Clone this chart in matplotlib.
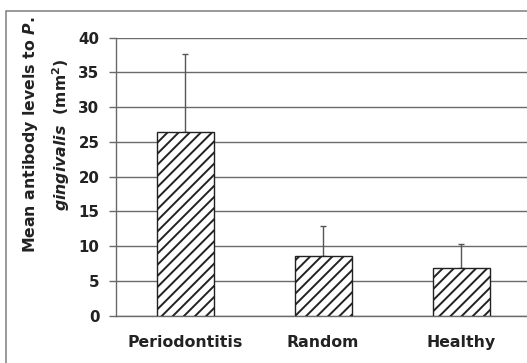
import matplotlib
matplotlib.use("Agg")
import matplotlib.pyplot as plt
from matplotlib.patches import Rectangle

plt.rcParams['font.family'] = ['DejaVu Sans']
plt.rcParams['mathtext.fontset'] = 'custom'
plt.rcParams['mathtext.rm'] = 'DejaVu Sans:bold'
plt.rcParams['mathtext.it'] = 'DejaVu Sans:italic:bold'
plt.rcParams['mathtext.bf'] = 'DejaVu Sans:bold'
plt.rcParams['hatch.linewidth'] = 1.4

groups = ['Periodontitis', 'Random', 'Healthy']
means = [26.5, 8.6, 6.8]
errors = [11.1, 4.3, 3.5]
yticks = [0, 5, 10, 15, 20, 25, 30, 35, 40]

W, H = 527, 363
fig = plt.figure(figsize=(W / 100, H / 100), dpi=100)
fig.patch.set_facecolor('white')

# outer frame (cropped at right/bottom)
fig.patches.append(Rectangle((6 / W, -0.1), 1.2, (H - 11) / H + 0.1,
                             transform=fig.transFigure, fill=False,
                             edgecolor='#888888', linewidth=1.2))

ax = fig.add_axes([116 / W, 47.3 / H, 414 / W, 278 / H])
grid_c = '#6a6a6a'
txt_c = '#222222'

x = list(range(len(groups)))
ax.bar(x, means, width=57 / 138, color='white', edgecolor='#222222',
       hatch='///', linewidth=1.0, zorder=3)
ax.errorbar(x, means, yerr=[[0] * len(errors), errors], fmt='none',
            ecolor='#555555', elinewidth=1.0, capsize=2.5, capthick=1.0,
            zorder=2)

ax.set_xlim(-0.5, 2.5)
ax.set_ylim(0, 40)
ax.set_yticks(yticks)
ax.set_yticklabels([str(t) for t in yticks], fontsize=10.8, fontweight='bold',
                   color=txt_c)
ax.set_xticks(x)
ax.set_xticklabels(groups, fontsize=11.3, fontweight='bold', color=txt_c)
ax.tick_params(axis='x', length=0, pad=14)
ax.tick_params(axis='y', length=5, width=1.0, color=grid_c, pad=7)

ax.yaxis.grid(True, color=grid_c, linewidth=1.0, zorder=0)
ax.set_axisbelow(True)
for s in ['top', 'right']:
    ax.spines[s].set_visible(False)
ax.spines['left'].set_color(grid_c)
ax.spines['bottom'].set_color(grid_c)
ax.spines['left'].set_linewidth(1.0)
ax.spines['bottom'].set_linewidth(1.0)

fig.text(31 / W, 1 - 135 / H, r'Mean antibody levels to $\mathit{P.}$',
         rotation=90, ha='center', va='center', fontsize=11.3,
         fontweight='bold', color=txt_c)
fig.text(61 / W, 1 - 135 / H, r'$\mathit{gingivalis}$  (mm$^{2}$)',
         rotation=90, ha='center', va='center', fontsize=11.3,
         fontweight='bold', color=txt_c)

fig.savefig('out.png', dpi=100, facecolor='white')
